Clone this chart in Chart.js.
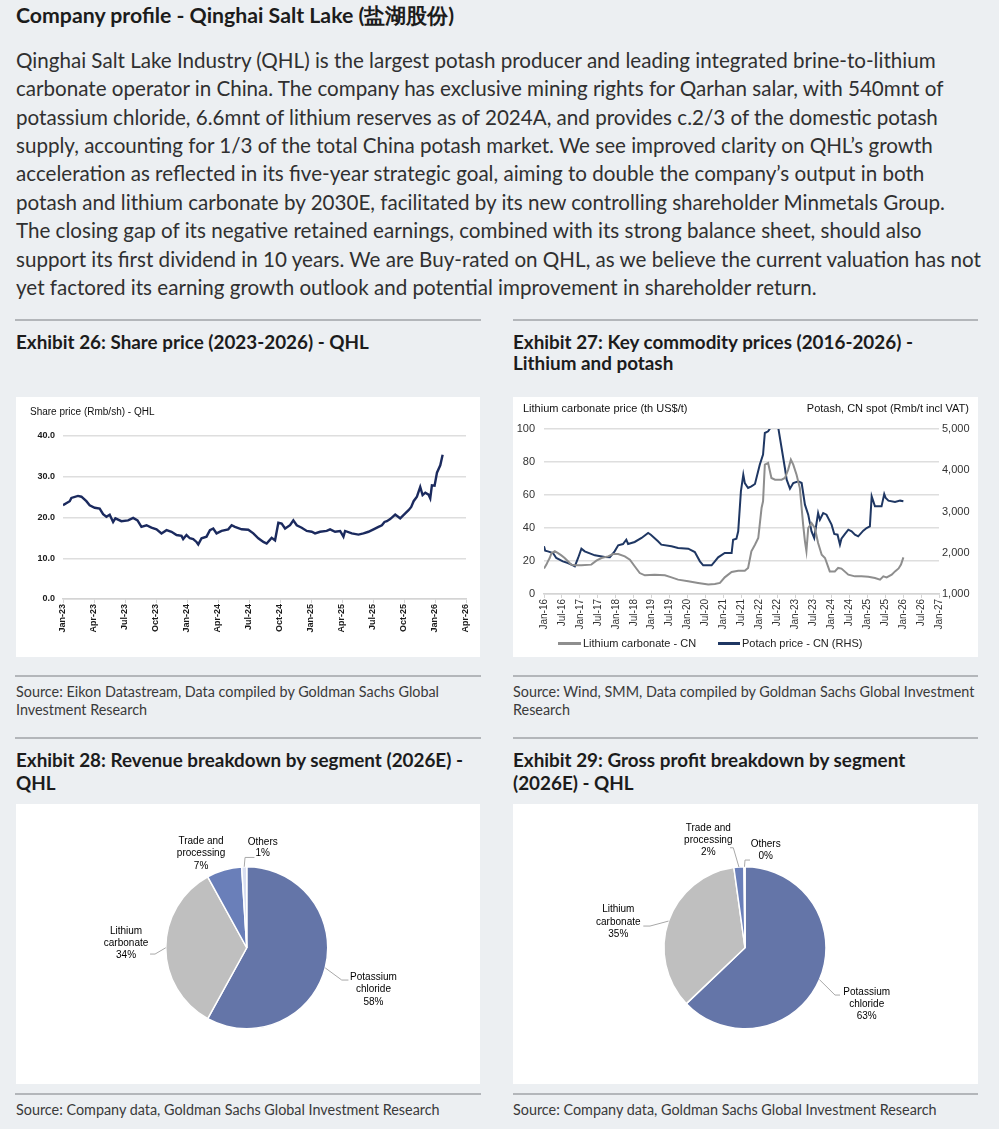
<!DOCTYPE html>
<html>
<head>
<meta charset="utf-8">
<script src="https://cdn.jsdelivr.net/npm/chart.js@4.4.1/dist/chart.umd.min.js"></script>
<style>
html,body{margin:0;padding:0;}
body{width:999px;height:1129px;background:#eceff2;position:relative;overflow:hidden;font-family:Lato,"Noto Sans",sans-serif;color:#303030;}
.t{position:absolute;white-space:nowrap;}
.h{font-weight:700;color:#1c1c1c;}
.src{color:#3a3a3a;}
.rule{position:absolute;height:2px;background:#b3b6ba;}
.panel{position:absolute;background:#fff;}
.panel canvas{position:absolute;left:0;top:0;}
.ct{position:absolute;white-space:nowrap;font-family:"Liberation Sans",Arial,sans-serif;color:#111;}
.lg{position:absolute;height:2.5px;}
</style>
</head>
<body>

<div id="mainTitle" class="t h" style="left:16px;top:3px;line-height:24px;">Company profile - Qinghai Salt Lake (盐湖股份)</div>
<div id="body" class="t" style="left:16px;top:45.8px;line-height:28.4px;">Qinghai Salt Lake Industry (QHL) is the largest potash producer and leading integrated brine-to-lithium<br>carbonate operator in China. The company has exclusive mining rights for Qarhan salar, with 540mnt of<br>potassium chloride, 6.6mnt of lithium reserves as of 2024A, and provides c.2/3 of the domestic potash<br>supply, accounting for 1/3 of the total China potash market. We see improved clarity on QHL’s growth<br>acceleration as reflected in its five-year strategic goal, aiming to double the company’s output in both<br>potash and lithium carbonate by 2030E, facilitated by its new controlling shareholder Minmetals Group.<br>The closing gap of its negative retained earnings, combined with its strong balance sheet, should also<br>support its first dividend in 10 years. We are Buy-rated on QHL, as we believe the current valuation has not<br>yet factored its earning growth outlook and potential improvement in shareholder return.</div>

<div class="rule" style="left:15px;top:319px;width:466px;"></div>
<div class="rule" style="left:513px;top:319px;width:465px;"></div>
<div class="t h ex" style="left:16px;top:330.9px;line-height:21.6px;">Exhibit 26: Share price (2023-2026) - QHL</div>
<div class="t h ex" style="left:513px;top:330.9px;line-height:21.6px;">Exhibit 27: Key commodity prices (2016-2026) -<br>Lithium and potash</div>

<div class="panel" style="left:16px;top:397px;width:464px;height:260px;">
  <canvas id="c26" width="464" height="260"></canvas>
  <div class="ct" style="left:14px;top:8px;line-height:14px;font-size:10px;">Share price (Rmb/sh) - QHL</div>
</div>
<div class="panel" id="p27" style="left:513px;top:397px;width:465px;height:260px;">
  <canvas id="c27" width="465" height="260"></canvas>
  <div class="ct" style="left:10px;top:4px;line-height:14px;font-size:11px;">Lithium carbonate price (th US$/t)</div>
  <div class="ct" style="right:9px;top:4px;line-height:14px;font-size:11px;">Potash, CN spot (Rmb/t incl VAT)</div>
</div>

<div class="rule" style="left:15px;top:675px;width:466px;"></div>
<div class="rule" style="left:513px;top:675px;width:465px;"></div>
<div class="t src" style="left:16px;top:683px;line-height:18px;">Source: Eikon Datastream, Data compiled by Goldman Sachs Global<br>Investment Research</div>
<div class="t src" style="left:513px;top:683px;line-height:18px;">Source: Wind, SMM, Data compiled by Goldman Sachs Global Investment<br>Research</div>

<div class="rule" style="left:15px;top:737px;width:466px;"></div>
<div class="rule" style="left:513px;top:737px;width:465px;"></div>
<div class="t h ex" style="left:16px;top:747.5px;line-height:23px;">Exhibit 28: Revenue breakdown by segment (2026E) -<br>QHL</div>
<div class="t h ex" style="left:513px;top:747.5px;line-height:23px;">Exhibit 29: Gross profit breakdown by segment<br>(2026E) - QHL</div>

<div class="panel" style="left:16px;top:804px;width:464px;height:280px;">
  <canvas id="c28" width="464" height="280"></canvas>
</div>
<div class="panel" style="left:513px;top:804px;width:465px;height:280px;">
  <canvas id="c29" width="465" height="280"></canvas>
</div>

<div class="rule" style="left:15px;top:1093px;width:466px;"></div>
<div class="rule" style="left:513px;top:1093px;width:465px;"></div>
<div class="t src" style="left:16px;top:1101px;line-height:18px;">Source: Company data, Goldman Sachs Global Investment Research</div>
<div class="t src" style="left:513px;top:1101px;line-height:18px;">Source: Company data, Goldman Sachs Global Investment Research</div>

<script>
// Exhibit 26 - share price, x = months since Jan-23
const shareMonths = [0,0.65,0.81,1.45,1.78,2.26,2.58,3.07,3.55,3.88,
  4.2,4.52,4.85,5.07,5.65,6.3,6.79,7.21,7.59,8.08,
  8.56,9.05,9.53,10.02,10.5,10.99,11.47,11.63,11.95,12.28,
  12.6,12.92,13.09,13.41,13.89,14.22,14.54,14.86,15.35,15.99,
  16.32,16.64,17.29,17.93,18.42,18.9,19.39,19.71,20.19,20.52,
  20.84,21.16,21.49,21.97,22.29,22.62,23.1,23.59,24.07,24.39,
  24.88,25.52,25.85,26.33,26.82,27.14,27.3,27.95,28.59,29.08,
  29.56,30.05,30.53,30.86,31.11,31.34,31.66,32.15,32.63,33.12,
  33.44,33.7,33.93,34.25,34.57,34.8,35.06,35.38,35.54,35.7,
  35.96,36.19,36.51,36.74];
const sharePrices = [23.0,24.0,24.8,25.3,25.1,24.0,23.0,22.4,22.2,20.8,
  20.2,20.7,18.9,19.8,19.1,19.3,19.9,19.3,17.7,18.1,
  17.5,17.1,16.1,16.9,16.5,15.7,15.5,14.7,15.7,14.9,
  14.7,14.0,13.4,14.9,15.3,16.9,17.3,16.1,16.7,17.1,
  18.1,17.7,17.1,17.0,16.1,14.9,14.0,13.6,15.0,14.4,
  18.7,18.5,17.3,18.1,19.3,18.1,17.5,16.7,16.5,16.1,
  16.5,16.7,17.1,16.5,16.7,15.3,16.7,16.1,15.8,16.1,
  16.5,17.1,17.7,18.1,18.9,19.1,19.6,20.7,19.8,21.0,
  21.8,22.6,24.0,25.1,27.5,25.5,26.1,25.6,24.7,27.9,
  27.8,31.0,32.8,35.4];
const shareTickLabels = ['Jan-23','Apr-23','Jul-23','Oct-23','Jan-24','Apr-24','Jul-24','Oct-24','Jan-25','Apr-25','Jul-25','Oct-25','Jan-26','Apr-26'];

// Exhibit 27 - commodity prices, x = months since Jan-16
const lithiumMonths = [0,0.8,1.3,1.9,2.5,3.6,4.7,5.8,6.9,8.0,
  9.1,10.3,12.5,15.8,17.5,19.2,21.4,23.1,24.8,27.0,
  28.7,30.3,32.0,33.7,37.0,40.4,42.6,44.8,48.2,51.5,
  54.9,57.1,58.8,60.4,62.7,64.9,67.1,68.2,69.3,70.5,
  71.6,72.7,73.2,73.8,74.9,76.0,77.2,79.4,80.5,81.6,
  82.5,83.3,84.4,85.5,86.6,87.2,87.7,88.3,89.4,90.5,
  91.6,92.8,93.9,95.5,97.2,98.3,99.4,101.7,103.9,106.1,
  108.4,110.6,112.3,113.4,114.5,116.2,117.3,118.5,119.3,120.1];
const lithiumPrices = [15.4,17.8,19.8,21.8,24.8,25.9,24.8,23.4,21.8,19.8,
  17.8,17.4,17.4,17.8,20.2,21.8,22.8,24.2,24.2,22.8,
  20.8,16.8,12.7,11.3,11.7,11.3,10.1,8.7,7.7,6.7,
  5.7,6.1,6.7,10.1,13.3,14.1,14.1,15.8,25.9,29.9,
  33.9,52.1,56.2,78.4,79.4,70.3,69.3,69.3,70.3,75.4,
  81.4,78.4,72.3,64.2,42.0,31.9,25.9,40.0,43.0,40.0,
  30.9,23.8,21.8,13.7,13.7,15.8,15.4,11.7,10.7,10.7,
  10.5,9.7,8.7,10.7,10.1,11.7,13.7,15.5,17.8,22.2];
const potashMonths = [0,0.4,1.3,3.0,4.1,6.3,8.0,9.7,10.3,11.4,
  12.5,13.6,17.0,20.3,22.0,23.6,24.8,26.4,27.5,28.1,
  30.3,32.6,34.8,35.7,38.1,39.2,42.6,44.8,48.2,50.4,
  52.1,53.2,56.0,57.1,58.2,60.4,62.7,63.2,64.3,64.9,
  65.8,66.6,67.1,68.2,69.3,70.5,72.1,73.2,73.8,74.9,
  76.0,77.7,78.3,79.4,80.5,81.1,82.2,83.3,85.0,86.1,
  87.2,88.3,89.4,90.3,91.6,92.2,93.3,94.4,96.1,97.0,
  98.1,98.9,99.4,100.6,101.7,102.8,103.9,105.0,106.7,107.8,
  108.9,109.5,110.6,111.7,112.8,113.7,114.2,115.1,117.3,119.0,
  120.1];
const potashPrices = [2156,2050,2034,1994,1873,1792,1751,1695,1671,1873,
  2099,2034,1937,1897,1889,2034,2180,2212,2317,2212,
  2261,2358,2479,2438,2277,2196,2156,2115,2099,2018,
  1792,1695,1695,1792,1889,1994,1994,2317,2341,2519,
  3489,3893,3691,3570,3610,3667,4135,4378,4903,4943,
  5065,5105,5024,4540,4055,3772,3554,3691,3731,3691,
  3166,2923,2519,2358,2964,2802,2964,2923,2681,2455,
  2438,2196,2341,2455,2560,2519,2438,2398,2535,2600,
  2640,3368,3125,3125,3125,3424,3327,3263,3230,3263,
  3247];
const commodityTickLabels = ['Jan-16','Jul-16','Jan-17','Jul-17','Jan-18','Jul-18','Jan-19','Jul-19','Jan-20','Jul-20','Jan-21','Jul-21','Jan-22','Jul-22','Jan-23','Jul-23','Jan-24','Jul-24','Jan-25','Jul-25','Jan-26','Jul-26','Jan-27'];

// Exhibits 28 / 29 - segment split (%)
const segmentNames = [['Potassium','chloride'],['Lithium','carbonate'],['Trade and','processing'],['Others']];
const revenueShare = [58,34,7,1];
const grossProfitShare = [63,35,2,0.2];
const segmentColors = ['#6475a8','#bfbfbf','#6a7fb9','#d9def0'];

// fit page text widths to the reference
function fitTo(selector, sample, target, weight) {
  const c = document.createElement('canvas').getContext('2d');
  c.font = weight + ' 100px Lato';
  const size = 100 * target / c.measureText(sample).width;
  document.querySelectorAll(selector).forEach(el => el.style.fontSize = size + 'px');
}
fitTo('#mainTitle', 'Company profile - Qinghai Salt Lake (盐湖股份)', 440, 700);
fitTo('#body', 'Qinghai Salt Lake Industry (QHL) is the largest potash producer and leading integrated brine-to-lithium', 921, 400);
fitTo('.ex', 'Exhibit 26: Share price (2023-2026) - QHL', 353, 700);
fitTo('.src', 'Source: Eikon Datastream, Data compiled by Goldman Sachs Global', 424, 400);

Chart.defaults.font.family = '"Liberation Sans", Arial, sans-serif';
Chart.defaults.animation = false;

const toXY = (xs, ys) => xs.map((x, i) => ({x: x, y: ys[i]}));

new Chart(document.getElementById('c26'), {
  type: 'line',
  data: {
    datasets: [{
      label: 'Share price (Rmb/sh) - QHL',
      data: toXY(shareMonths, sharePrices),
      borderColor: '#1b2a5e',
      borderWidth: 2.4,
      pointRadius: 0,
      tension: 0
    }]
  },
  options: {
    responsive: false,
    layout: {padding: {left: 0, right: 14, top: 39, bottom: 0}},
    plugins: {legend: {display: false}, tooltip: {enabled: false}},
    scales: {
      x: {
        type: 'linear', min: 0, max: 39,
        ticks: {stepSize: 3, autoSkip: false, maxRotation: 90, minRotation: 90, padding: 1,
          color: '#1a1a1a', font: {size: 9, weight: 'bold'},
          callback: v => shareTickLabels[Math.round(v / 3)]},
        grid: {drawOnChartArea: false, drawTicks: true, tickLength: 4, color: '#d4d4d4'},
        border: {color: '#d4d4d4', width: 1.5},
        afterFit: s => { s.height = 58; }
      },
      y: {
        min: 0, max: 40,
        ticks: {stepSize: 10, padding: 8, color: '#1a1a1a', font: {size: 9, weight: 'bold'},
          callback: v => v.toFixed(1)},
        grid: {color: '#dedede', lineWidth: 1.5, drawTicks: false},
        border: {display: false},
        afterFit: s => { s.width = 47; }
      }
    }
  }
});

const c27 = new Chart(document.getElementById('c27'), {
  type: 'line',
  data: {
    datasets: [{
      label: 'Lithium carbonate - CN',
      data: toXY(lithiumMonths, lithiumPrices),
      borderColor: '#8e8e8e',
      borderWidth: 2,
      pointRadius: 0,
      yAxisID: 'y'
    }, {
      label: 'Potach price - CN (RHS)',
      data: toXY(potashMonths, potashPrices),
      borderColor: '#1f3763',
      borderWidth: 2,
      pointRadius: 0,
      yAxisID: 'y2'
    }]
  },
  options: {
    responsive: false,
    layout: {padding: {left: 0, right: 0, top: 32, bottom: 0}},
    plugins: {legend: {display: false}, tooltip: {enabled: false}},
    scales: {
      x: {
        type: 'linear', min: 0, max: 132,
        ticks: {stepSize: 6, autoSkip: false, maxRotation: 90, minRotation: 90, padding: 1,
          color: '#333', font: {size: 10},
          callback: v => commodityTickLabels[Math.round(v / 6)]},
        grid: {drawOnChartArea: false, drawTicks: true, tickLength: 4, color: '#d4d4d4'},
        border: {color: '#d4d4d4', width: 1.5},
        afterFit: s => { s.height = 63; }
      },
      y: {
        position: 'left', min: 0, max: 100,
        ticks: {stepSize: 20, padding: 9, color: '#333', font: {size: 11}},
        grid: {color: '#dedede', lineWidth: 1.5, drawTicks: false},
        border: {display: false},
        afterFit: s => { s.width = 31; }
      },
      y2: {
        position: 'right', min: 1000, max: 5000,
        ticks: {stepSize: 1000, padding: 3, color: '#333', font: {size: 11},
          callback: v => v.toLocaleString('en-US')},
        grid: {drawOnChartArea: false, drawTicks: false},
        border: {display: false},
        afterFit: s => { s.width = 39; }
      }
    }
  }
});

// legend of exhibit 27, built from the datasets
const legendPlaces = [{x: 45, w: 23}, {x: 205, w: 22}];
c27.data.datasets.forEach((ds, i) => {
  const p = document.getElementById('p27');
  const sw = document.createElement('div');
  sw.className = 'lg';
  sw.style.cssText = `left:${legendPlaces[i].x}px;top:245px;width:${legendPlaces[i].w}px;background:${ds.borderColor};`;
  p.appendChild(sw);
  const tx = document.createElement('div');
  tx.className = 'ct';
  tx.style.cssText = `left:${legendPlaces[i].x + legendPlaces[i].w + 2}px;top:239px;line-height:14px;font-size:11px;color:#222;`;
  tx.textContent = ds.label;
  p.appendChild(tx);
});

// outside labels with leader lines for the pies
const pieLabels = {
  id: 'pieLabels',
  afterDraw(chart, args, opts) {
    const ctx = chart.ctx;
    const arcs = chart.getDatasetMeta(0).data;
    const values = chart.data.datasets[0].data;
    ctx.save();
    ctx.font = '10px "Liberation Sans", Arial, sans-serif';
    ctx.fillStyle = '#000';
    ctx.textAlign = 'center';
    ctx.textBaseline = 'middle';
    arcs.forEach((arc, i) => {
      const p = opts.places[i];
      const a = arc.getProps(['x', 'y', 'startAngle', 'endAngle', 'outerRadius'], true);
      const mid = (a.startAngle + a.endAngle) / 2;
      if (p.leader) {
        ctx.strokeStyle = '#a8a8a8';
        ctx.lineWidth = 1;
        ctx.beginPath();
        ctx.moveTo(a.x + Math.cos(mid) * a.outerRadius, a.y + Math.sin(mid) * a.outerRadius);
        p.leader.forEach(pt => ctx.lineTo(a.x + pt[0], a.y + pt[1]));
        ctx.stroke();
      }
      const lines = chart.data.labels[i].concat(Math.round(values[i]) + '%');
      lines.forEach((t, k) => ctx.fillText(t, a.x + p.x, a.y + p.y + (k - (lines.length - 1) / 2) * p.lh));
    });
    ctx.restore();
  }
};

function pie(id, values, padding, places) {
  new Chart(document.getElementById(id), {
    type: 'pie',
    data: {
      labels: segmentNames,
      datasets: [{data: values, backgroundColor: segmentColors, borderColor: '#fff', borderWidth: 1.5}]
    },
    options: {
      responsive: false,
      layout: {padding: padding},
      plugins: {legend: {display: false}, tooltip: {enabled: false}, pieLabels: {places: places}}
    },
    plugins: [pieLabels]
  });
}

pie('c28', revenueShare, {left: 149, right: 151.5, top: 62, bottom: 54.5}, [
  {x: 126.7, y: 41.5, lh: 12.5, leader: [[95, 32.3], [101.7, 32.3]]},
  {x: -120.7, y: -5, lh: 12, leader: [[-91.7, 6.3], [-96.7, 6.3]]},
  {x: -45.7, y: -94.4, lh: 12.5},
  {x: 16, y: -100.2, lh: 11.6, leader: [[-1.7, -90.3], [7.7, -90.3]]}
]);
pie('c29', grossProfitShare, {left: 150.25, right: 151.25, top: 62, bottom: 54.5}, [
  {x: 121.7, y: 56, lh: 12, leader: [[90, 47.3], [95, 47.3]]},
  {x: -126.7, y: -26, lh: 12.5, leader: [[-95, -21.7], [-101.7, -21.7]]},
  {x: -36.7, y: -107.9, lh: 12, leader: [[-11.7, -100], [-15, -100]]},
  {x: 20.7, y: -97.2, lh: 12.3, leader: [[0, -87.7], [5, -87.7]]}
]);
</script>
</body>
</html>
